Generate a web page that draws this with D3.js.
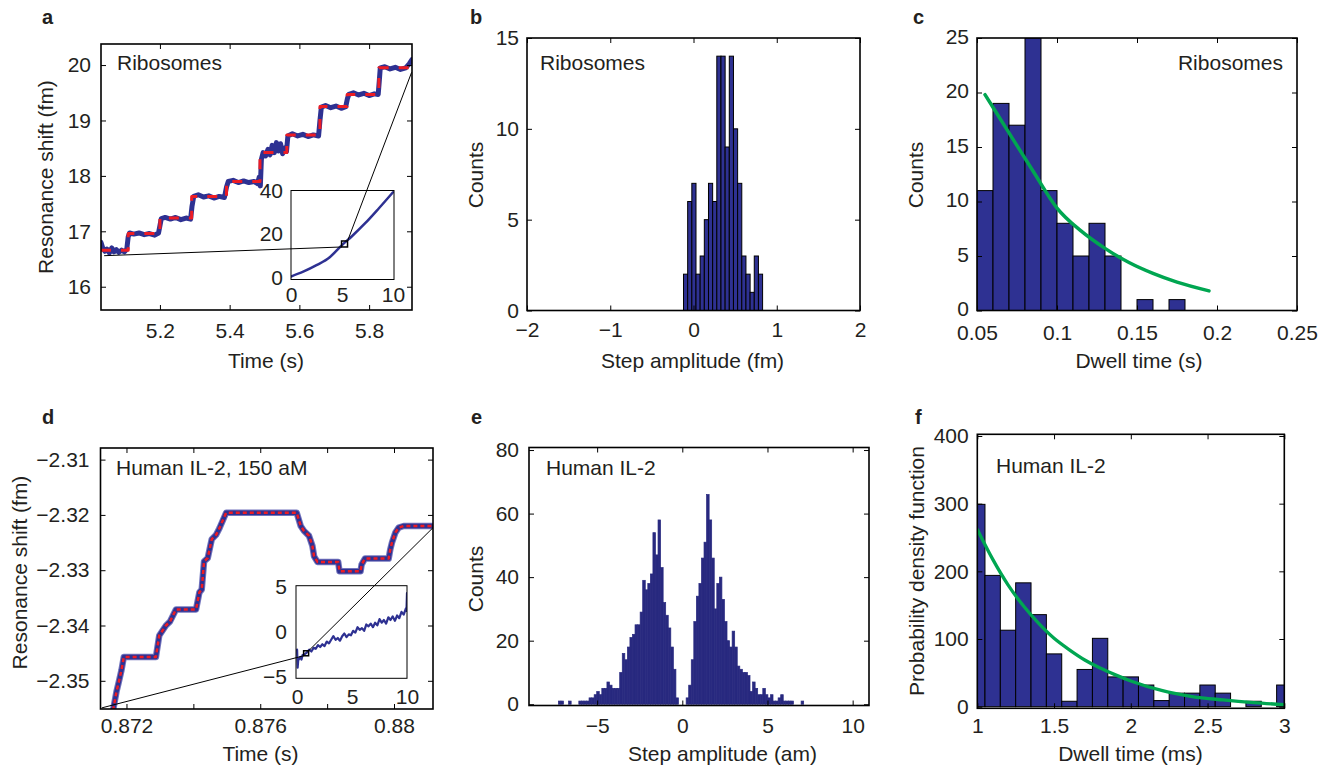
<!DOCTYPE html>
<html>
<head>
<meta charset="utf-8">
<script src="https://cdn.jsdelivr.net/npm/d3@7"></script>
<style>
  body { margin: 0; background: #fff; }
  svg text { font-family: "Liberation Sans", Arial, Helvetica, sans-serif; fill: #231f20; }
</style>
</head>
<body>
<script>
// ---- panel a: ribosome trace (time s, shift fm) ----
const aTime = [5.031,5.036,5.042,5.048,5.055,5.062,5.068,5.075,5.082,5.090,5.098,5.105,5.109,5.113,5.125,5.140,5.155,5.170,5.185,5.196,
  5.200,5.204,5.215,5.230,5.245,5.260,5.275,5.288,5.292,5.297,5.310,5.325,5.340,5.355,5.370,5.385,5.391,5.396,5.410,5.425,
  5.440,5.455,5.470,5.480,5.485,5.488,5.491,5.496,5.503,5.510,5.516,5.522,5.528,5.534,5.540,5.546,5.552,5.558,5.563,5.567,
  5.580,5.595,5.610,5.625,5.640,5.655,5.659,5.663,5.675,5.690,5.705,5.720,5.733,5.738,5.742,5.755,5.770,5.785,5.800,5.815,
  5.826,5.829,5.832,5.845,5.860,5.875,5.890,5.905,5.915,5.923];
const aShift = [16.80,16.70,16.64,16.68,16.61,16.70,16.63,16.67,16.62,16.66,16.63,16.68,16.90,16.97,16.95,16.97,16.94,16.96,16.93,16.97,
  17.10,17.23,17.25,17.22,17.25,17.21,17.24,17.22,17.45,17.63,17.66,17.62,17.64,17.60,17.63,17.61,17.80,17.90,17.92,17.88,
  17.91,17.88,17.90,17.86,17.98,17.82,18.30,18.42,18.36,18.48,18.38,18.55,18.42,18.60,18.45,18.58,18.40,18.50,18.44,18.72,
  18.76,18.72,18.75,18.71,18.74,18.72,19.00,19.24,19.27,19.23,19.26,19.22,19.25,19.40,19.47,19.50,19.46,19.49,19.45,19.48,
  19.47,19.70,19.95,19.97,19.93,19.96,19.92,19.95,20.02,20.10];
const aStepTimes = [5.109,5.200,5.291,5.391,5.487,5.564,5.659,5.737,5.828];
const aStepLevels = [16.66,16.96,17.24,17.63,17.90,18.42,18.74,19.25,19.47,19.95];
// inset a: whole recording (s, fm)
const aInsetT = [0,1.2,2.5,3.8,5.0,6.0,7.3,8.6,10];
const aInsetY = [0.5,2.7,5.7,9.4,15.0,19.2,25.2,31.9,39.4];
const aSquare = [5.25, 15.5];
const aLinkMain = [[5.04, 16.56], [5.922, 19.87]];

// ---- panel b: ribosome step amplitudes ----
const bBinLeft = [-0.12,-0.07,-0.02,0.03,0.08,0.13,0.18,0.23,0.28,0.33,0.38,0.43,0.48,0.53,0.58,0.63,0.68,0.73,0.78];
const bBinWidth = 0.05;
const bCounts = [2,6,7,2,3,5,7,6,14,14,9,14,10,7,3,2,1,3,2];

// ---- panel c: ribosome dwell times ----
const cBinLeft = [0.05,0.06,0.07,0.08,0.09,0.10,0.11,0.12,0.13,0.14,0.15,0.16,0.17];
const cBinWidth = 0.01;
const cCounts = [11,19,17,25,11,8,5,8,5,0,1,0,1];
const cFitT = [0.055,0.07,0.085,0.1,0.115,0.13,0.145,0.16,0.175,0.195];
const cFitN = [19.8,16.3,12.8,9.4,7.3,5.7,4.4,3.4,2.6,1.8];

// ---- panel d: IL-2 trace ----
const dTime = [0.87160,0.87170,0.87177,0.87185,0.87192,0.87288,0.87298,0.87318,0.87330,0.87348,0.87408,0.87418,0.87425,0.87432,
  0.87443,0.87455,0.87468,0.87478,0.87498,0.87709,0.87721,0.87731,0.87746,0.87756,0.87761,0.87771,0.87833,0.87837,0.87900,
  0.87903,0.87913,0.87984,0.87989,0.87994,0.88004,0.88014,0.88029,0.88125];
const dShift = [-2.3553,-2.3520,-2.3502,-2.3481,-2.3457,-2.3457,-2.3418,-2.3400,-2.3393,-2.3371,-2.3371,-2.3340,-2.3335,-2.3284,
  -2.3278,-2.3244,-2.3236,-2.3224,-2.3196,-2.3196,-2.3220,-2.3229,-2.3238,-2.3256,-2.3275,-2.3285,-2.3285,-2.3302,-2.3302,
  -2.3290,-2.3279,-2.3279,-2.3262,-2.3250,-2.3232,-2.3223,-2.3220,-2.3220];
const dInsetT = [0,0.05,0.1,0.2,0.3,0.4,0.5,0.7,0.9,1.1,1.3,1.5,1.7,1.9,2.1,2.3,2.5,2.7,2.9,3.1,3.3,3.5,3.7,3.9,4.1,4.3,4.5,4.7,4.9,
  5.1,5.3,5.5,5.7,5.9,6.1,6.3,6.5,6.7,6.9,7.1,7.3,7.5,7.7,7.9,8.1,8.3,8.5,8.7,8.9,9.1,9.3,9.5,9.7,9.9,9.95,10];
const dInsetY = [-2.0,-4.0,-3.2,-3.0,-2.8,-3.1,-2.6,-2.5,-2.3,-2.0,-2.2,-1.8,-1.9,-1.5,-1.7,-1.4,-1.6,-1.1,-1.3,-0.9,-0.5,-0.9,-0.7,
  -1.0,-0.5,-0.2,-0.6,-0.3,-0.4,0.1,-0.1,0.5,0.2,0.4,0.1,0.8,0.6,0.9,0.5,1.0,0.7,1.4,1.0,1.3,0.9,1.6,1.3,1.7,1.2,1.8,1.5,2.2,
  1.9,2.6,2.3,4.3];
const dSquare = [0.82, -2.4];
const dLinkMain = [[0.87126, -2.3549], [0.88116, -2.32235]];

// ---- panel e: IL-2 step amplitudes (bins of 0.15 am from -7.2) ----
const eFirst = -7.2;
const eBinWidth = 0.15;
const eCounts = [1,1,0,0,1,0,0,0,1,1,1,1,2,2,3,4,3,5,5,7,6,5,5,5,10,16,14,18,21,22,25,25,29,39,36,38,41,54,47,58,43,32,28,24,18,11,2,0,
  0,0,2,6,14,26,34,38,46,51,66,58,46,30,38,40,33,26,20,18,23,18,12,11,10,10,9,4,7,5,3,3,5,3,2,3,1,1,2,3,1,1,1,1,0,0,0,1,0];

// ---- panel f: IL-2 dwell times ----
const fBinCenter = [1.0,1.1,1.2,1.3,1.4,1.5,1.6,1.7,1.8,1.9,2.0,2.1,2.2,2.3,2.4,2.5,2.6,2.7,2.8,2.9,3.0];
const fBinWidth = 0.1;
const fDensity = [299,194,113,183,136,78,8,55,101,44,44,32,9,20,20,32,20,0,8,0,32];
const fFitT = [1.0,1.1,1.2,1.3,1.4,1.5,1.6,1.7,1.8,1.9,2.0,2.2,2.4,2.6,2.8,3.0];
const fFitP = [262,218,180,149,123,101,84,69,57,47,38,24,15,10,6,3];

const BLUE = "#2e3192", RED = "#ed1c24", GREEN = "#00a651";
const FS = 21;

const svg = d3.select("body").append("svg").attr("width", 1330).attr("height", 767);
let clipCount = 0;

function num(d) {
  const s = String(+Math.abs(d).toFixed(4));
  return (d < 0 ? "\u2212" : "") + s;
}

// axes box with inward ticks on all four sides (matlab style)
function frame(box, xDom, yDom, o) {
  const x = d3.scaleLinear().domain(xDom).range([box.l, box.r]);
  const y = d3.scaleLinear().domain(yDom).range([box.b, box.t]);
  const g = svg.append("g");
  if (o.bg) g.append("rect").attr("x", box.l).attr("y", box.t)
    .attr("width", box.r - box.l).attr("height", box.b - box.t).attr("fill", "#fff");
  const id = "clip" + (clipCount++);
  g.append("clipPath").attr("id", id).append("rect")
    .attr("x", box.l).attr("y", box.t).attr("width", box.r - box.l).attr("height", box.b - box.t);
  const plot = g.append("g").attr("clip-path", "url(#" + id + ")");
  const ax = g.append("g").attr("color", "#000");
  const tk = o.tick == null ? 5 : o.tick;
  const xl = o.xLabels || o.xTicks, yl = o.yLabels || o.yTicks;
  const list = [
    [d3.axisBottom(x).tickValues(o.xTicks).tickFormat(d => xl.includes(d) ? num(d) : "").tickPadding(o.xPad), "translate(0," + box.b + ")"],
    [d3.axisTop(x).tickValues(o.xTicks).tickFormat(""), "translate(0," + box.t + ")"],
    [d3.axisLeft(y).tickValues(o.yTicks).tickFormat(d => yl.includes(d) ? num(d) : "").tickPadding(o.yPad), "translate(" + box.l + ",0)"],
    [d3.axisRight(y).tickValues(o.yTicks).tickFormat(""), "translate(" + box.r + ",0)"]
  ];
  list.forEach(([axis, tr], k) => {
    const a = ax.append("g").attr("transform", tr)
      .call(axis.tickSizeInner(-tk).tickSizeOuter(0));
    a.select(".domain").remove();
    a.selectAll("text").style("font-size", FS + "px");
    if (k === 2 && o.yDy) a.selectAll("text").attr("dy", o.yDy);
    if (tk === 0) a.selectAll("line").remove();
  });
  ax.append("rect").attr("x", box.l).attr("y", box.t)
    .attr("width", box.r - box.l).attr("height", box.b - box.t)
    .attr("fill", "none").attr("stroke", "#000").attr("stroke-width", o.border || 1.6);
  return { x, y, plot, g };
}

function bars(p, lefts, width, vals, outline) {
  const rows = vals.map((v, i) => ({ x0: lefts[i], x1: lefts[i] + width, v })).filter(d => d.v > 0);
  p.plot.selectAll(null).data(rows).join("rect")
    .attr("x", d => p.x(d.x0))
    .attr("width", d => p.x(d.x1) - p.x(d.x0))
    .attr("y", d => p.y(d.v))
    .attr("height", d => p.y(0) - p.y(d.v))
    .attr("fill", outline ? BLUE : "#28297f")
    .attr("stroke", outline ? "#000" : "#28297f")
    .attr("stroke-width", outline ? 1 : 0.7);
}

function path(p, xs, ys, curve) {
  const gen = d3.line().x(d => p.x(d[0])).y(d => p.y(d[1]));
  if (curve) gen.curve(curve);
  return p.plot.append("path").attr("d", gen(xs.map((v, i) => [v, ys[i]])))
    .attr("fill", "none").attr("stroke-linejoin", "round").attr("stroke-linecap", "round");
}

function text(str, x, y, o) {
  o = o || {};
  const t = svg.append("text").attr("x", x).attr("y", y).text(str)
    .style("font-size", (o.size || FS) + "px")
    .attr("text-anchor", o.anchor || "start");
  if (o.bold) t.style("font-weight", "bold");
  return t;
}
function ytitle(str, x, y) {
  svg.append("text").attr("transform", "translate(" + x + "," + y + ") rotate(-90)")
    .attr("text-anchor", "middle").style("font-size", FS + "px").text(str);
}

// zoom marker square + connecting lines
function zoomLinks(main, inset, links, sq, size) {
  const cx = inset.x(sq[0]), cy = inset.y(sq[1]), h = size / 2;
  const ends = [[cx - h, cy + h], [cx + h, cy - h]];
  links.forEach((m, i) => {
    svg.append("line")
      .attr("x1", main.x(m[0])).attr("y1", main.y(m[1]))
      .attr("x2", ends[i][0]).attr("y2", ends[i][1])
      .attr("stroke", "#000").attr("stroke-width", 1);
  });
  svg.append("rect").attr("x", cx - h).attr("y", cy - h).attr("width", size).attr("height", size)
    .attr("fill", "none").attr("stroke", "#000").attr("stroke-width", 1.5);
}

// ===== a =====
const pa = frame({ l: 101, r: 412, t: 44, b: 310 }, [5.031, 5.923], [15.58, 20.38],
  { xTicks: [5.2, 5.4, 5.6, 5.8], yTicks: [16, 17, 18, 19, 20], xPad: 13, yPad: 10 });
path(pa, aTime, aShift).attr("stroke", BLUE).attr("stroke-width", 5);
const aStepX = [5.031].concat(aStepTimes, [5.923]);
const aStepY = aStepLevels.concat([aStepLevels[aStepLevels.length - 1]]);
path(pa, aStepX, aStepY, d3.curveStepAfter).attr("stroke", RED).attr("stroke-width", 3)
  .attr("stroke-dasharray", "10,10").attr("stroke-linecap", "butt");
const ia = frame({ l: 291, r: 394, t: 190.5, b: 279.5 }, [0, 10.1], [-0.9, 40.2],
  { xTicks: [0, 5, 10], yTicks: [0, 20, 40], xPad: 8, yPad: 8, tick: 0, border: 1, bg: true });
path(ia, aInsetT, aInsetY, d3.curveMonotoneX).attr("stroke", BLUE).attr("stroke-width", 2.5);
zoomLinks(pa, ia, aLinkMain, aSquare, 6);
text("Ribosomes", 117, 70);
text("Time (s)", 266, 367.5, { anchor: "middle" });
ytitle("Resonance shift (fm)", 53, 177);
text("a", 42, 24, { bold: true, size: 20 });

// ===== b =====
const pb = frame({ l: 527, r: 860, t: 38, b: 310.5 }, [-2, 2], [0, 15],
  { xTicks: [-2, -1, 0, 1, 2], yTicks: [0, 5, 10, 15], xPad: 12, yPad: 8 });
bars(pb, bBinLeft, bBinWidth, bCounts, true);
text("Ribosomes", 540, 70);
text("Step amplitude (fm)", 692.5, 367.5, { anchor: "middle" });
ytitle("Counts", 483, 175);
text("b", 470, 24, { bold: true, size: 20 });

// ===== c =====
const pc = frame({ l: 977, r: 1297, t: 38, b: 310.5 }, [0.05, 0.25], [0, 25],
  { xTicks: [0.05, 0.1, 0.15, 0.2, 0.25], yTicks: [0, 5, 10, 15, 20, 25], xPad: 14.5, yPad: 8, yDy: "0.26em" });
bars(pc, cBinLeft, cBinWidth, cCounts, true);
path(pc, cFitT, cFitN, d3.curveMonotoneX).attr("stroke", GREEN).attr("stroke-width", 3.5);
text("Ribosomes", 1283, 70, { anchor: "end" });
text("Dwell time (s)", 1139, 367.5, { anchor: "middle" });
ytitle("Counts", 923, 175);
text("c", 913, 24, { bold: true, size: 20 });

// ===== d =====
const pd = frame({ l: 100.5, r: 433, t: 448, b: 709 }, [0.871223, 0.881166], [-2.3551, -2.3079],
  { xTicks: [0.872, 0.874, 0.876, 0.878, 0.88], xLabels: [0.872, 0.876, 0.88],
    yTicks: [-2.35, -2.34, -2.33, -2.32, -2.31], xPad: 9, yPad: 11 });
path(pd, dTime, dShift).attr("stroke", "#7475bd").attr("stroke-width", 6.5);
path(pd, dTime, dShift).attr("stroke", BLUE).attr("stroke-width", 4.5);
path(pd, dTime, dShift).attr("stroke", RED).attr("stroke-width", 2.5)
  .attr("stroke-dasharray", "4,3").attr("stroke-linecap", "butt");
const id = frame({ l: 296, r: 407, t: 585.7, b: 678.3 }, [-0.1, 10], [-5.18, 5.11],
  { xTicks: [0, 5, 10], yTicks: [-5, 0, 5], xPad: 11, yPad: 9, tick: 0, border: 1, bg: true });
path(id, dInsetT, dInsetY).attr("stroke", BLUE).attr("stroke-width", 2.2);
zoomLinks(pd, id, dLinkMain, dSquare, 5);
text("Human IL-2, 150 aM", 116, 475);
text("Time (s)", 260.5, 761, { anchor: "middle" });
ytitle("Resonance shift (fm)", 27, 572.5);
text("d", 42, 424, { bold: true, size: 20 });

// ===== e =====
const pe = frame({ l: 529, r: 869, t: 447.5, b: 705.5 }, [-9, 10.96], [-0.4, 80.8],
  { xTicks: [-5, 0, 5, 10], yTicks: [0, 20, 40, 60, 80], xPad: 13, yPad: 10 });
const eLeft = eCounts.map((_, i) => eFirst + i * eBinWidth - eBinWidth / 2);
bars(pe, eLeft, eBinWidth, eCounts, false);
text("Human IL-2", 546, 475);
text("Step amplitude (am)", 722.5, 761, { anchor: "middle" });
ytitle("Counts", 483, 579);
text("e", 471, 424, { bold: true, size: 20 });

// ===== f =====
const pf = frame({ l: 977.3, r: 1284.3, t: 434.3, b: 708.3 }, [1, 3], [-2.4, 402.5],
  { xTicks: [1, 1.5, 2, 2.5, 3], yTicks: [0, 100, 200, 300, 400], xPad: 10, yPad: 8.6 });
bars(pf, fBinCenter.map(c => c - fBinWidth / 2), fBinWidth, fDensity, true);
path(pf, fFitT, fFitP, d3.curveMonotoneX).attr("stroke", GREEN).attr("stroke-width", 3.3);
text("Human IL-2", 996, 473);
text("Dwell time (ms)", 1130.5, 761, { anchor: "middle" });
ytitle("Probability density function", 924, 571);
text("f", 915, 424, { bold: true, size: 20 });
</script>
</body>
</html>
